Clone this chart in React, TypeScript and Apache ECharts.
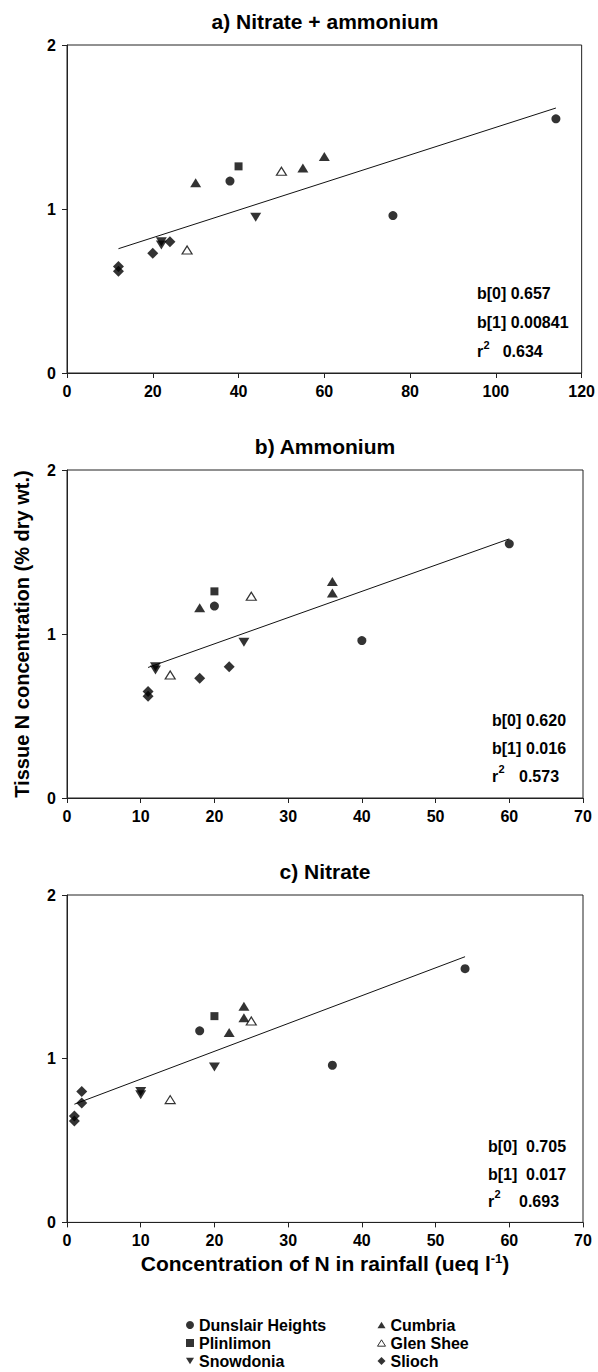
import React, { useEffect, useRef } from "react";
import * as echarts from "echarts";

const FONT = "'Liberation Sans', Arial, Helvetica, sans-serif";

// ---- data ----
const sites = ["Dunslair Heights", "Plinlimon", "Snowdonia", "Cumbria", "Glen Shee", "Slioch"];
const pointSite = [
  "Dunslair Heights", "Dunslair Heights", "Dunslair Heights",
  "Plinlimon",
  "Snowdonia", "Snowdonia", "Snowdonia",
  "Cumbria", "Cumbria", "Cumbria",
  "Glen Shee", "Glen Shee",
  "Slioch", "Slioch", "Slioch", "Slioch",
];
const tissueN = [1.55, 0.96, 1.17, 1.26, 0.95, 0.80, 0.78, 1.16, 1.25, 1.32, 1.23, 0.75, 0.80, 0.73, 0.65, 0.62];
const rainTotalN = [114, 76, 38, 40, 44, 22, 22, 30, 55, 60, 50, 28, 24, 20, 12, 12];
const rainAmmonium = [60, 40, 20, 20, 24, 12, 12, 18, 36, 36, 25, 14, 22, 18, 11, 11];
const rainNitrate = [54, 36, 18, 20, 20, 10, 10, 22, 24, 24, 25, 14, 2, 2, 1, 1];

const panelTitles = ["a) Nitrate + ammonium", "b) Ammonium", "c) Nitrate"];
const xMax = [120, 70, 70];
const xInterval = [20, 10, 10];
const yMax = 2;
const yInterval = 1;

const fitB0 = [0.657, 0.620, 0.705];
const fitB1 = [0.00841, 0.016, 0.017];
const b0Text = ["0.657", "0.620", "0.705"];
const b1Text = ["0.00841", "0.016", "0.017"];
const r2Text = ["0.634", "0.573", "0.693"];

const yAxisTitle = "Tissue N concentration (% dry wt.)";
const xAxisTitleMain = "Concentration of N in rainfall (ueq l";
const xAxisTitleSup = "-1";

// ---- styles ----
const gridTops = [45, 470, 895];
const gridH = [328, 328, 327.4];
const GRID_LEFT = 67;
const GRID_W = 516;

const siteStyle: Record<string, any> = {
  "Dunslair Heights": { symbol: "circle", symbolSize: 9, itemStyle: { color: "#000" } },
  Plinlimon: { symbol: "rect", symbolSize: 8, itemStyle: { color: "#000" } },
  Snowdonia: { symbol: "triangle", symbolSize: [11, 9], symbolRotate: 180, itemStyle: { color: "#000" } },
  Cumbria: { symbol: "triangle", symbolSize: [11, 9], itemStyle: { color: "#000" } },
  "Glen Shee": { symbol: "triangle", symbolSize: [10, 8], itemStyle: { color: "#fff", borderColor: "#000", borderWidth: 1.2 } },
  Slioch: { symbol: "diamond", symbolSize: [11, 11], itemStyle: { color: "#000" } },
};

const legendIcon: Record<string, any> = {
  "Dunslair Heights": { icon: "circle", itemStyle: { color: "#000" } },
  Plinlimon: { icon: "rect", itemStyle: { color: "#000" } },
  Snowdonia: { icon: "path://M0,0 L10,0 L5,8 Z", itemStyle: { color: "#000" } },
  Cumbria: { icon: "path://M5,0 L10,8 L0,8 Z", itemStyle: { color: "#000" } },
  "Glen Shee": { icon: "path://M5,0 L10,8 L0,8 Z", itemStyle: { color: "#fff", borderColor: "#000", borderWidth: 1 } },
  Slioch: { icon: "diamond", itemStyle: { color: "#000" } },
};

const annLeft = [477, 492, 488];
const annValueX = [[510.7, 510.7, 502.7], [526, 526, 519], [526, 526, 519]];
const annRowY = [[293, 322.7, 351.7], [720, 748.3, 776], [1146.7, 1174, 1201]];

function buildOption() {
  const xData = [rainTotalN, rainAmmonium, rainNitrate];
  const grids = gridTops.map((t, i) => ({
    left: GRID_LEFT, top: t, width: GRID_W, height: gridH[i],
    show: true, borderColor: "#222", borderWidth: 1, backgroundColor: "transparent",
  }));
  const labelStyle = { fontFamily: FONT, fontWeight: "bold", fontSize: 16, color: "#000" };
  const xAxes = xMax.map((m, i) => ({
    type: "value", gridIndex: i, min: 0, max: m, interval: xInterval[i],
    axisLine: { show: true, onZero: false, lineStyle: { color: "#222", width: 1 } },
    axisTick: { show: true, inside: false, length: 5, lineStyle: { color: "#222" } },
    axisLabel: { ...labelStyle, margin: 10 },
    splitLine: { show: false },
  }));
  const yAxes = xMax.map((_, i) => ({
    type: "value", gridIndex: i, min: 0, max: yMax, interval: yInterval,
    axisLine: { show: true, onZero: false, lineStyle: { color: "#222", width: 1 } },
    axisTick: { show: true, inside: false, length: 5, lineStyle: { color: "#222" } },
    axisLabel: { ...labelStyle, margin: 11 },
    splitLine: { show: false },
  }));

  const series: any[] = [];
  for (let p = 0; p < 3; p++) {
    const xs = xData[p];
    const xmin = Math.min(...xs);
    const xmax = Math.max(...xs);
    series.push({
      type: "line", xAxisIndex: p, yAxisIndex: p, silent: true, z: 1,
      symbol: "none", lineStyle: { color: "#111", width: 1 },
      data: [[xmin, fitB0[p] + fitB1[p] * xmin], [xmax, fitB0[p] + fitB1[p] * xmax]],
    });
    for (const s of sites) {
      const data: number[][] = [];
      pointSite.forEach((ps, i) => { if (ps === s) data.push([xs[i], tissueN[i]]); });
      series.push({ type: "scatter", name: s, xAxisIndex: p, yAxisIndex: p, z: 3, data, ...siteStyle[s] });
    }
  }

  const graphics: any[] = [];
  const textBase = (text: string, x: number, y: number, size: number, align = "left") => ({
    type: "text", x, y, silent: true,
    style: {
      text, fill: "#000", fontFamily: FONT, fontWeight: "bold", fontSize: size,
      align, verticalAlign: "middle", textAlign: align, textVerticalAlign: "middle",
    },
  });
  const titleY = [21, 446.5, 871.5];
  panelTitles.forEach((t, i) => graphics.push(textBase(t, GRID_LEFT + GRID_W / 2, titleY[i], 21, "center")));
  for (let p = 0; p < 3; p++) {
    const rows = annRowY[p];
    graphics.push(textBase("b[0]", annLeft[p], rows[0], 16));
    graphics.push(textBase(b0Text[p], annValueX[p][0], rows[0], 16));
    graphics.push(textBase("b[1]", annLeft[p], rows[1], 16));
    graphics.push(textBase(b1Text[p], annValueX[p][1], rows[1], 16));
    graphics.push(textBase("r", annLeft[p], rows[2], 16));
    graphics.push(textBase("2", annLeft[p] + 6.5, rows[2] - 7, 11));
    graphics.push(textBase(r2Text[p], annValueX[p][2], rows[2], 16));
  }
  graphics.push({
    type: "text", x: 22, y: 634, rotation: Math.PI / 2, silent: true,
    style: {
      text: yAxisTitle, fill: "#000", fontFamily: FONT, fontWeight: "bold", fontSize: 20,
      align: "center", verticalAlign: "middle", textAlign: "center", textVerticalAlign: "middle",
    },
  });
  graphics.push({
    type: "text", x: 325, y: 1263, silent: true,
    style: {
      text: `{a|${xAxisTitleMain}}{s|${xAxisTitleSup}}{a|)}`,
      fill: "#000", fontFamily: FONT, fontWeight: "bold", fontSize: 21,
      align: "center", verticalAlign: "middle", textAlign: "center", textVerticalAlign: "middle",
      rich: {
        a: { fontFamily: FONT, fontWeight: "bold", fontSize: 21, lineHeight: 23, fill: "#000", color: "#000" },
        s: { fontFamily: FONT, fontWeight: "bold", fontSize: 13, verticalAlign: "top", lineHeight: 14, fill: "#000", color: "#000" },
      },
    },
  });

  const legendText = { fontFamily: FONT, fontWeight: "bold", fontSize: 16, lineHeight: 16, color: "#000" };
  const legendItem = (n: string) => ({ name: n, ...legendIcon[n] });
  const legends = [
    { data: sites.slice(0, 3).map(legendItem), left: 186 },
    { data: sites.slice(3).map(legendItem), left: 377 },
  ].map((l) => ({
    ...l, type: "plain", orient: "vertical", top: 1317, height: 80, width: 200,
    itemWidth: 8, itemHeight: 8, itemGap: 2,
    selectedMode: false, textStyle: legendText, padding: 0,
  }));

  return {
    animation: false,
    backgroundColor: "#fff",
    grid: grids,
    xAxis: xAxes,
    yAxis: yAxes,
    series,
    legend: legends,
    graphic: { elements: graphics },
  };
}

export default function App() {
  const ref = useRef<HTMLDivElement>(null);
  useEffect(() => {
    if (!ref.current) return;
    const chart = echarts.init(ref.current, undefined, { renderer: "svg" });
    chart.setOption(buildOption() as any);
    return () => chart.dispose();
  }, []);
  return (
    <div
      ref={ref}
      style={{ position: "absolute", left: 0, top: 0, width: 598, height: 1372, background: "#fff" }}
    />
  );
}
